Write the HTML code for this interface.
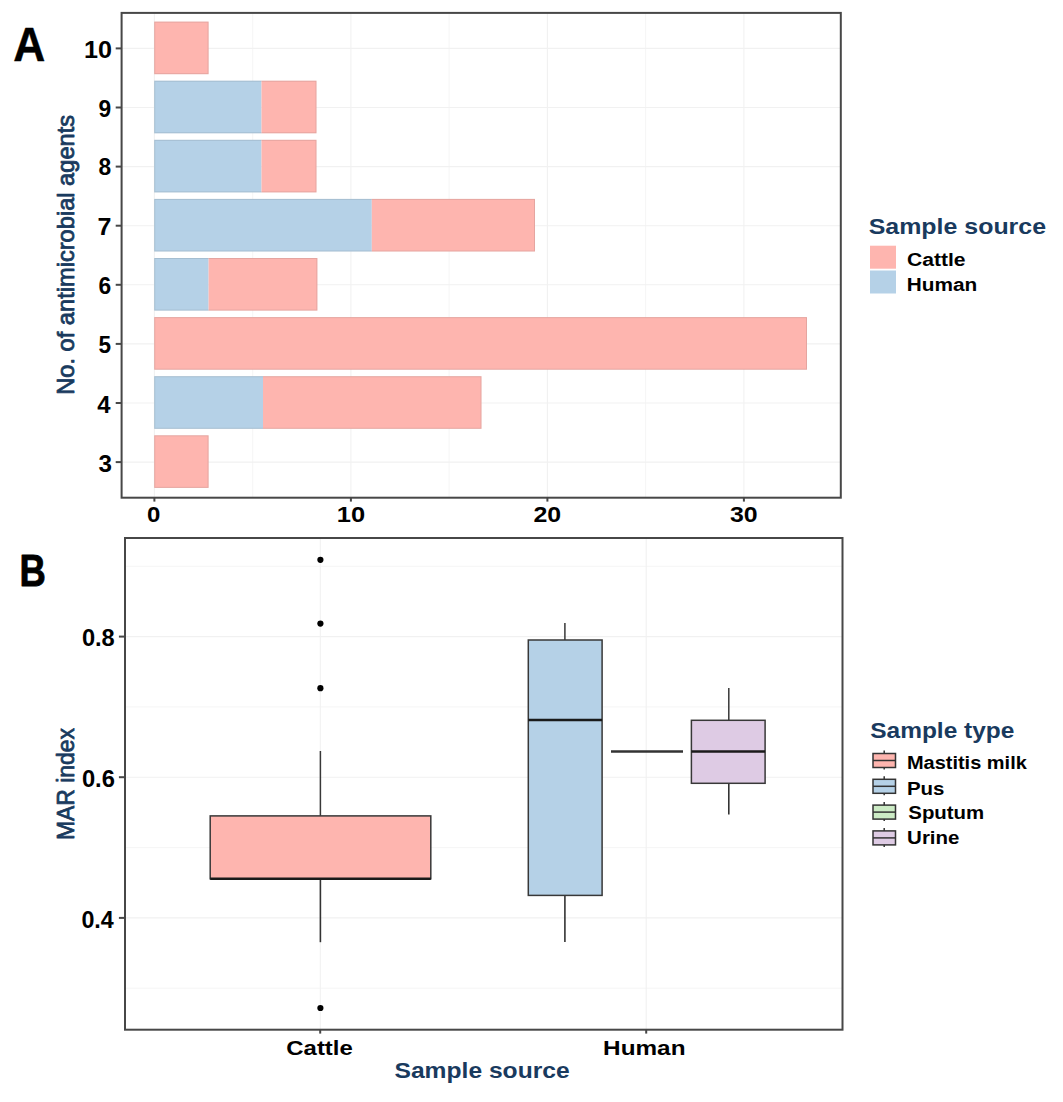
<!DOCTYPE html>
<html><head><meta charset="utf-8"><style>
html,body{margin:0;padding:0;background:#fff;width:1063px;height:1102px;overflow:hidden;position:relative;font-family:"Liberation Sans",sans-serif;}
</style></head><body>
<svg width="1063" height="1102" viewBox="0 0 1063 1102" style="position:absolute;left:0;top:0"><rect x="0" y="0" width="1063" height="1102" fill="#fff"/><line x1="154.4" y1="13" x2="154.4" y2="497" stroke="#F1F1F1" stroke-width="1.1"/><line x1="350.9" y1="13" x2="350.9" y2="497" stroke="#F1F1F1" stroke-width="1.1"/><line x1="547.4" y1="13" x2="547.4" y2="497" stroke="#F1F1F1" stroke-width="1.1"/><line x1="743.9" y1="13" x2="743.9" y2="497" stroke="#F1F1F1" stroke-width="1.1"/><line x1="252.7" y1="13" x2="252.7" y2="497" stroke="#F1F1F1" stroke-width="0.7"/><line x1="449.1" y1="13" x2="449.1" y2="497" stroke="#F1F1F1" stroke-width="0.7"/><line x1="645.6" y1="13" x2="645.6" y2="497" stroke="#F1F1F1" stroke-width="0.7"/><line x1="122" y1="462.1" x2="841" y2="462.1" stroke="#F1F1F1" stroke-width="1.1"/><line x1="122" y1="403.0" x2="841" y2="403.0" stroke="#F1F1F1" stroke-width="1.1"/><line x1="122" y1="343.9" x2="841" y2="343.9" stroke="#F1F1F1" stroke-width="1.1"/><line x1="122" y1="284.8" x2="841" y2="284.8" stroke="#F1F1F1" stroke-width="1.1"/><line x1="122" y1="225.7" x2="841" y2="225.7" stroke="#F1F1F1" stroke-width="1.1"/><line x1="122" y1="166.6" x2="841" y2="166.6" stroke="#F1F1F1" stroke-width="1.1"/><line x1="122" y1="107.5" x2="841" y2="107.5" stroke="#F1F1F1" stroke-width="1.1"/><line x1="122" y1="48.4" x2="841" y2="48.4" stroke="#F1F1F1" stroke-width="1.1"/><rect x="154.2" y="21.6" width="54.4" height="52.6" fill="#FEB5AF"/><rect x="154.7" y="22.1" width="53.4" height="51.6" fill="none" stroke="rgba(60,60,60,0.13)" stroke-width="1"/><rect x="154.2" y="80.7" width="107.3" height="52.6" fill="#B5D1E7"/><rect x="261.5" y="80.7" width="55.0" height="52.6" fill="#FEB5AF"/><rect x="154.7" y="81.2" width="161.3" height="51.6" fill="none" stroke="rgba(60,60,60,0.13)" stroke-width="1"/><rect x="154.2" y="139.8" width="107.3" height="52.6" fill="#B5D1E7"/><rect x="261.5" y="139.8" width="55.0" height="52.6" fill="#FEB5AF"/><rect x="154.7" y="140.3" width="161.3" height="51.6" fill="none" stroke="rgba(60,60,60,0.13)" stroke-width="1"/><rect x="154.2" y="198.9" width="217.6" height="52.6" fill="#B5D1E7"/><rect x="371.8" y="198.9" width="163.2" height="52.6" fill="#FEB5AF"/><rect x="154.7" y="199.4" width="379.8" height="51.6" fill="none" stroke="rgba(60,60,60,0.13)" stroke-width="1"/><rect x="154.2" y="258.0" width="54.4" height="52.6" fill="#B5D1E7"/><rect x="208.6" y="258.0" width="108.8" height="52.6" fill="#FEB5AF"/><rect x="154.7" y="258.5" width="162.2" height="51.6" fill="none" stroke="rgba(60,60,60,0.13)" stroke-width="1"/><rect x="154.2" y="317.1" width="652.8" height="52.6" fill="#FEB5AF"/><rect x="154.7" y="317.6" width="651.8" height="51.6" fill="none" stroke="rgba(60,60,60,0.13)" stroke-width="1"/><rect x="154.2" y="376.2" width="108.8" height="52.6" fill="#B5D1E7"/><rect x="263.0" y="376.2" width="218.5" height="52.6" fill="#FEB5AF"/><rect x="154.7" y="376.7" width="326.3" height="51.6" fill="none" stroke="rgba(60,60,60,0.13)" stroke-width="1"/><rect x="154.2" y="435.3" width="54.4" height="52.6" fill="#FEB5AF"/><rect x="154.7" y="435.8" width="53.4" height="51.6" fill="none" stroke="rgba(60,60,60,0.13)" stroke-width="1"/><rect x="121.6" y="12.9" width="719.2" height="484.8" fill="none" stroke="#474747" stroke-width="2"/><line x1="115.7" y1="462.1" x2="121" y2="462.1" stroke="#474747" stroke-width="2"/><line x1="115.7" y1="403.0" x2="121" y2="403.0" stroke="#474747" stroke-width="2"/><line x1="115.7" y1="343.9" x2="121" y2="343.9" stroke="#474747" stroke-width="2"/><line x1="115.7" y1="284.8" x2="121" y2="284.8" stroke="#474747" stroke-width="2"/><line x1="115.7" y1="225.7" x2="121" y2="225.7" stroke="#474747" stroke-width="2"/><line x1="115.7" y1="166.6" x2="121" y2="166.6" stroke="#474747" stroke-width="2"/><line x1="115.7" y1="107.5" x2="121" y2="107.5" stroke="#474747" stroke-width="2"/><line x1="115.7" y1="48.4" x2="121" y2="48.4" stroke="#474747" stroke-width="2"/><line x1="154.4" y1="498" x2="154.4" y2="501.6" stroke="#474747" stroke-width="2"/><line x1="350.9" y1="498" x2="350.9" y2="501.6" stroke="#474747" stroke-width="2"/><line x1="547.4" y1="498" x2="547.4" y2="501.6" stroke="#474747" stroke-width="2"/><line x1="743.9" y1="498" x2="743.9" y2="501.6" stroke="#474747" stroke-width="2"/><rect x="870" y="245.7" width="26" height="23" fill="#FEB5AF"/><rect x="870" y="270.5" width="26" height="23" fill="#B5D1E7"/><line x1="125.0" y1="917.9" x2="842.5" y2="917.9" stroke="#F1F1F1" stroke-width="1.1"/><line x1="125.0" y1="777.2" x2="842.5" y2="777.2" stroke="#F1F1F1" stroke-width="1.1"/><line x1="125.0" y1="636.6" x2="842.5" y2="636.6" stroke="#F1F1F1" stroke-width="1.1"/><line x1="125.0" y1="988.2" x2="842.5" y2="988.2" stroke="#F1F1F1" stroke-width="0.7"/><line x1="125.0" y1="847.6" x2="842.5" y2="847.6" stroke="#F1F1F1" stroke-width="0.7"/><line x1="125.0" y1="706.9" x2="842.5" y2="706.9" stroke="#F1F1F1" stroke-width="0.7"/><line x1="125.0" y1="566.3" x2="842.5" y2="566.3" stroke="#F1F1F1" stroke-width="0.7"/><line x1="320.3" y1="538" x2="320.3" y2="1029" stroke="#F1F1F1" stroke-width="1.1"/><line x1="646.2" y1="538" x2="646.2" y2="1029" stroke="#F1F1F1" stroke-width="1.1"/><line x1="320.4" y1="751.0" x2="320.4" y2="815.9" stroke="#383838" stroke-width="1.5"/><line x1="320.4" y1="878.8" x2="320.4" y2="942.2" stroke="#333" stroke-width="1.6"/><rect x="210.2" y="815.9" width="220.6" height="62.9" fill="#FEB5AF" stroke="#383838" stroke-width="1.5"/><line x1="210.2" y1="878.8" x2="430.8" y2="878.8" stroke="#1a1a1a" stroke-width="2.5"/><circle cx="320.4" cy="559.8" r="3.1" fill="#000"/><circle cx="320.4" cy="623.6" r="3.1" fill="#000"/><circle cx="320.4" cy="688.2" r="3.1" fill="#000"/><circle cx="320.4" cy="1008.0" r="3.1" fill="#000"/><line x1="564.9" y1="622.9" x2="564.9" y2="640.0" stroke="#383838" stroke-width="1.5"/><line x1="564.9" y1="895.4" x2="564.9" y2="942.0" stroke="#333" stroke-width="1.6"/><rect x="528.3" y="640.0" width="73.8" height="255.4" fill="#B5D1E7" stroke="#383838" stroke-width="1.5"/><line x1="528.3" y1="720.0" x2="602.1" y2="720.0" stroke="#1a1a1a" stroke-width="2.5"/><line x1="611" y1="751.5" x2="683" y2="751.5" stroke="#333" stroke-width="2.4"/><line x1="728.8" y1="688.1" x2="728.8" y2="720.3" stroke="#383838" stroke-width="1.5"/><line x1="728.8" y1="783.3" x2="728.8" y2="814.6" stroke="#333" stroke-width="1.6"/><rect x="691.4" y="720.3" width="73.7" height="63.0" fill="#DECBE4" stroke="#383838" stroke-width="1.5"/><line x1="691.4" y1="751.5" x2="765.1" y2="751.5" stroke="#1a1a1a" stroke-width="2.5"/><rect x="125.0" y="538.0" width="717.5" height="491.7" fill="none" stroke="#474747" stroke-width="2"/><line x1="118.9" y1="917.9" x2="124.5" y2="917.9" stroke="#474747" stroke-width="2"/><line x1="118.9" y1="777.2" x2="124.5" y2="777.2" stroke="#474747" stroke-width="2"/><line x1="118.9" y1="636.6" x2="124.5" y2="636.6" stroke="#474747" stroke-width="2"/><line x1="320.2" y1="1030" x2="320.2" y2="1033.6" stroke="#474747" stroke-width="2"/><line x1="646.2" y1="1030" x2="646.2" y2="1033.6" stroke="#474747" stroke-width="2"/><line x1="884.2" y1="750.5" x2="884.2" y2="769.5" stroke="#333" stroke-width="1.5"/><rect x="873" y="753.5" width="22.5" height="14" fill="#FEB5AF" stroke="#333" stroke-width="1.5"/><line x1="873" y1="760.5" x2="895.5" y2="760.5" stroke="#333" stroke-width="1.5"/><line x1="884.2" y1="776.3" x2="884.2" y2="795.3" stroke="#333" stroke-width="1.5"/><rect x="873" y="779.3" width="22.5" height="14" fill="#B5D1E7" stroke="#333" stroke-width="1.5"/><line x1="873" y1="786.3" x2="895.5" y2="786.3" stroke="#333" stroke-width="1.5"/><line x1="884.2" y1="802.1" x2="884.2" y2="821.1" stroke="#333" stroke-width="1.5"/><rect x="873" y="805.1" width="22.5" height="14" fill="#CCEBC5" stroke="#333" stroke-width="1.5"/><line x1="873" y1="812.1" x2="895.5" y2="812.1" stroke="#333" stroke-width="1.5"/><line x1="884.2" y1="827.9" x2="884.2" y2="846.9" stroke="#333" stroke-width="1.5"/><rect x="873" y="830.9" width="22.5" height="14" fill="#DECBE4" stroke="#333" stroke-width="1.5"/><line x1="873" y1="837.9" x2="895.5" y2="837.9" stroke="#333" stroke-width="1.5"/><text id="tA" x="13.30" y="60.90" font-family="Liberation Sans" font-weight="bold" font-size="48.02" fill="#000" stroke="#000" stroke-width="0.5" stroke-linejoin="round" textLength="32.00" lengthAdjust="spacingAndGlyphs">A</text><text id="tB" x="19.60" y="586.10" font-family="Liberation Sans" font-weight="bold" font-size="45.27" fill="#000" stroke="#000" stroke-width="0.9" stroke-linejoin="round" textLength="26.33" lengthAdjust="spacingAndGlyphs">B</text><text id="ya10" x="83.90" y="57.70" font-family="Liberation Sans" font-weight="bold" font-size="23.30" fill="#000" textLength="27.98" lengthAdjust="spacingAndGlyphs">10</text><text id="ya9" x="98.60" y="117.00" font-family="Liberation Sans" font-weight="bold" font-size="23.30" fill="#000" textLength="12.69" lengthAdjust="spacingAndGlyphs">9</text><text id="ya8" x="98.60" y="175.30" font-family="Liberation Sans" font-weight="bold" font-size="23.30" fill="#000" textLength="12.69" lengthAdjust="spacingAndGlyphs">8</text><text id="ya7" x="97.60" y="234.60" font-family="Liberation Sans" font-weight="bold" font-size="23.30" fill="#000" textLength="13.89" lengthAdjust="spacingAndGlyphs">7</text><text id="ya6" x="98.60" y="293.90" font-family="Liberation Sans" font-weight="bold" font-size="23.30" fill="#000" textLength="12.69" lengthAdjust="spacingAndGlyphs">6</text><text id="ya5" x="98.60" y="353.20" font-family="Liberation Sans" font-weight="bold" font-size="23.30" fill="#000" textLength="12.55" lengthAdjust="spacingAndGlyphs">5</text><text id="ya4" x="97.20" y="412.80" font-family="Liberation Sans" font-weight="bold" font-size="23.30" fill="#000" textLength="13.27" lengthAdjust="spacingAndGlyphs">4</text><text id="ya3" x="98.50" y="472.00" font-family="Liberation Sans" font-weight="bold" font-size="23.30" fill="#000" textLength="13.46" lengthAdjust="spacingAndGlyphs">3</text><text id="xa0" x="147.00" y="522.00" font-family="Liberation Sans" font-weight="bold" font-size="22.00" fill="#000" textLength="13.36" lengthAdjust="spacingAndGlyphs">0</text><text id="xa10" x="336.80" y="522.00" font-family="Liberation Sans" font-weight="bold" font-size="22.00" fill="#000" textLength="28.39" lengthAdjust="spacingAndGlyphs">10</text><text id="xa20" x="533.50" y="522.00" font-family="Liberation Sans" font-weight="bold" font-size="22.00" fill="#000" textLength="27.68" lengthAdjust="spacingAndGlyphs">20</text><text id="xa30" x="730.00" y="522.00" font-family="Liberation Sans" font-weight="bold" font-size="22.00" fill="#000" textLength="27.68" lengthAdjust="spacingAndGlyphs">30</text><text id="ytA" transform="translate(73.50,394.80) rotate(-90)" font-family="Liberation Sans" font-weight="normal" font-size="23.46" fill="#193A5E" stroke="#193A5E" stroke-width="0.8" stroke-linejoin="round" textLength="279.88" lengthAdjust="spacingAndGlyphs">No. of antimicrobial agents</text><text id="legAt" x="868.70" y="233.90" font-family="Liberation Sans" font-weight="bold" font-size="21.70" fill="#193A5E" textLength="177.38" lengthAdjust="spacingAndGlyphs">Sample source</text><text id="legAc" x="907.00" y="265.90" font-family="Liberation Sans" font-weight="bold" font-size="17.60" fill="#000" textLength="58.61" lengthAdjust="spacingAndGlyphs">Cattle</text><text id="legAh" x="906.80" y="291.10" font-family="Liberation Sans" font-weight="bold" font-size="17.60" fill="#000" textLength="70.46" lengthAdjust="spacingAndGlyphs">Human</text><text id="yb08" x="81.90" y="646.40" font-family="Liberation Sans" font-weight="bold" font-size="23.00" fill="#000" textLength="32.90" lengthAdjust="spacingAndGlyphs">0.8</text><text id="yb06" x="81.90" y="787.10" font-family="Liberation Sans" font-weight="bold" font-size="23.00" fill="#000" textLength="33.01" lengthAdjust="spacingAndGlyphs">0.6</text><text id="yb04" x="81.40" y="927.90" font-family="Liberation Sans" font-weight="bold" font-size="23.00" fill="#000" textLength="32.38" lengthAdjust="spacingAndGlyphs">0.4</text><text id="ytB" transform="translate(73.60,840.10) rotate(-90)" font-family="Liberation Sans" font-weight="normal" font-size="24.25" fill="#193A5E" stroke="#193A5E" stroke-width="0.8" stroke-linejoin="round" textLength="112.11" lengthAdjust="spacingAndGlyphs">MAR index</text><text id="xbC" x="286.30" y="1054.60" font-family="Liberation Sans" font-weight="bold" font-size="20.20" fill="#000" textLength="66.50" lengthAdjust="spacingAndGlyphs">Cattle</text><text id="xbH" x="603.10" y="1054.60" font-family="Liberation Sans" font-weight="bold" font-size="20.20" fill="#000" textLength="82.41" lengthAdjust="spacingAndGlyphs">Human</text><text id="xtB" x="394.50" y="1078.40" font-family="Liberation Sans" font-weight="bold" font-size="21.81" fill="#193A5E" textLength="175.16" lengthAdjust="spacingAndGlyphs">Sample source</text><text id="legBt" x="870.20" y="737.80" font-family="Liberation Sans" font-weight="bold" font-size="21.70" fill="#193A5E" textLength="144.26" lengthAdjust="spacingAndGlyphs">Sample type</text><text id="legB1" x="906.90" y="768.50" font-family="Liberation Sans" font-weight="bold" font-size="17.60" fill="#000" textLength="119.93" lengthAdjust="spacingAndGlyphs">Mastitis milk</text><text id="legB2" x="906.90" y="795.00" font-family="Liberation Sans" font-weight="bold" font-size="17.60" fill="#000" textLength="37.55" lengthAdjust="spacingAndGlyphs">Pus</text><text id="legB3" x="908.30" y="819.40" font-family="Liberation Sans" font-weight="bold" font-size="17.60" fill="#000" textLength="75.89" lengthAdjust="spacingAndGlyphs">Sputum</text><text id="legB4" x="907.10" y="843.90" font-family="Liberation Sans" font-weight="bold" font-size="17.60" fill="#000" textLength="52.34" lengthAdjust="spacingAndGlyphs">Urine</text></svg>
</body></html>
